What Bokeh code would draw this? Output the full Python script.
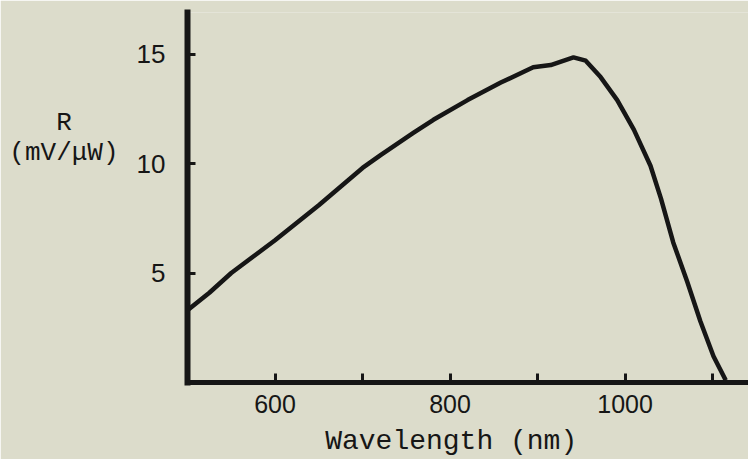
from bokeh.plotting import figure
from bokeh.models import Range1d, FixedTicker
from bokeh.embed import file_html
from bokeh.resources import INLINE

# Data
wavelength_nm = [500, 525, 550, 600, 650, 700, 721, 758, 781, 820, 858, 895, 915,
                 941, 955, 972, 991, 1010, 1029, 1041, 1055, 1071, 1086, 1101, 1115]
responsivity = [3.3, 4.1, 5.0, 6.5, 8.1, 9.8, 10.4, 11.4, 12.0, 12.9, 13.7, 14.4, 14.5,
                14.85, 14.7, 13.95, 12.9, 11.55, 9.9, 8.4, 6.4, 4.6, 2.8, 1.2, 0.1]
x_ticks = [600, 700, 800, 900, 1000, 1100]
x_tick_labels = {600: "600", 700: "", 800: "800", 900: "", 1000: "1000", 1100: ""}
y_ticks = [5, 10, 15]
NB = "\u00a0"
x_title = "Wavelength (nm)" + NB * 2
y_title = NB * 3 + "R" + NB * 3 + "\n(mV/\u03bcW)\n\n\n\n"

BG = "#dcdccb"
INK = "#161616"

p = figure(width=748, height=459, output_backend="svg", toolbar_location=None,
           x_range=Range1d(500, 1141), y_range=Range1d(0, 16.9),
           min_border_left=187, min_border_right=0, min_border_top=12,
           min_border_bottom=75)
p.background_fill_color = BG
p.border_fill_color = BG
p.outline_line_color = None
p.xgrid.grid_line_color = None
p.ygrid.grid_line_color = None

p.line(wavelength_nm, responsivity, line_color=INK, line_width=4.5, line_join="round")

xa = p.xaxis[0]
xa.ticker = FixedTicker(ticks=x_ticks)
xa.major_label_overrides = x_tick_labels
xa.axis_line_width = 5
xa.axis_line_color = INK
xa.axis_line_cap = "square"
xa.major_tick_in = 9
xa.major_tick_out = 0
xa.major_tick_line_width = 3
xa.major_tick_line_color = INK
xa.minor_tick_line_color = None
xa.major_label_standoff = 12
xa.major_label_text_font = "Liberation Sans"
xa.major_label_text_font_size = "25px"
xa.major_label_text_color = INK
xa.axis_label = x_title
xa.axis_label_standoff = 10
xa.axis_label_text_font = "Liberation Mono"
xa.axis_label_text_font_style = "normal"
xa.axis_label_text_font_size = "28px"
xa.axis_label_text_color = INK

ya = p.yaxis[0]
ya.ticker = FixedTicker(ticks=y_ticks)
ya.axis_line_width = 6
ya.axis_line_color = INK
ya.axis_line_cap = "square"
ya.major_tick_in = 8
ya.major_tick_out = 0
ya.major_tick_line_width = 3
ya.major_tick_line_color = INK
ya.minor_tick_line_color = None
ya.major_label_standoff = 22
ya.major_label_text_font = "Liberation Sans"
ya.major_label_text_font_size = "26px"
ya.major_label_text_color = INK
ya.axis_label = y_title
ya.axis_label_orientation = "horizontal"
ya.axis_label_standoff = 15
ya.axis_label_text_font = "Liberation Mono"
ya.axis_label_text_font_style = "normal"
ya.axis_label_text_font_size = "26px"
ya.axis_label_text_line_height = 1.0
ya.axis_label_text_color = INK

open("out.html", "w").write(file_html(p, INLINE))
